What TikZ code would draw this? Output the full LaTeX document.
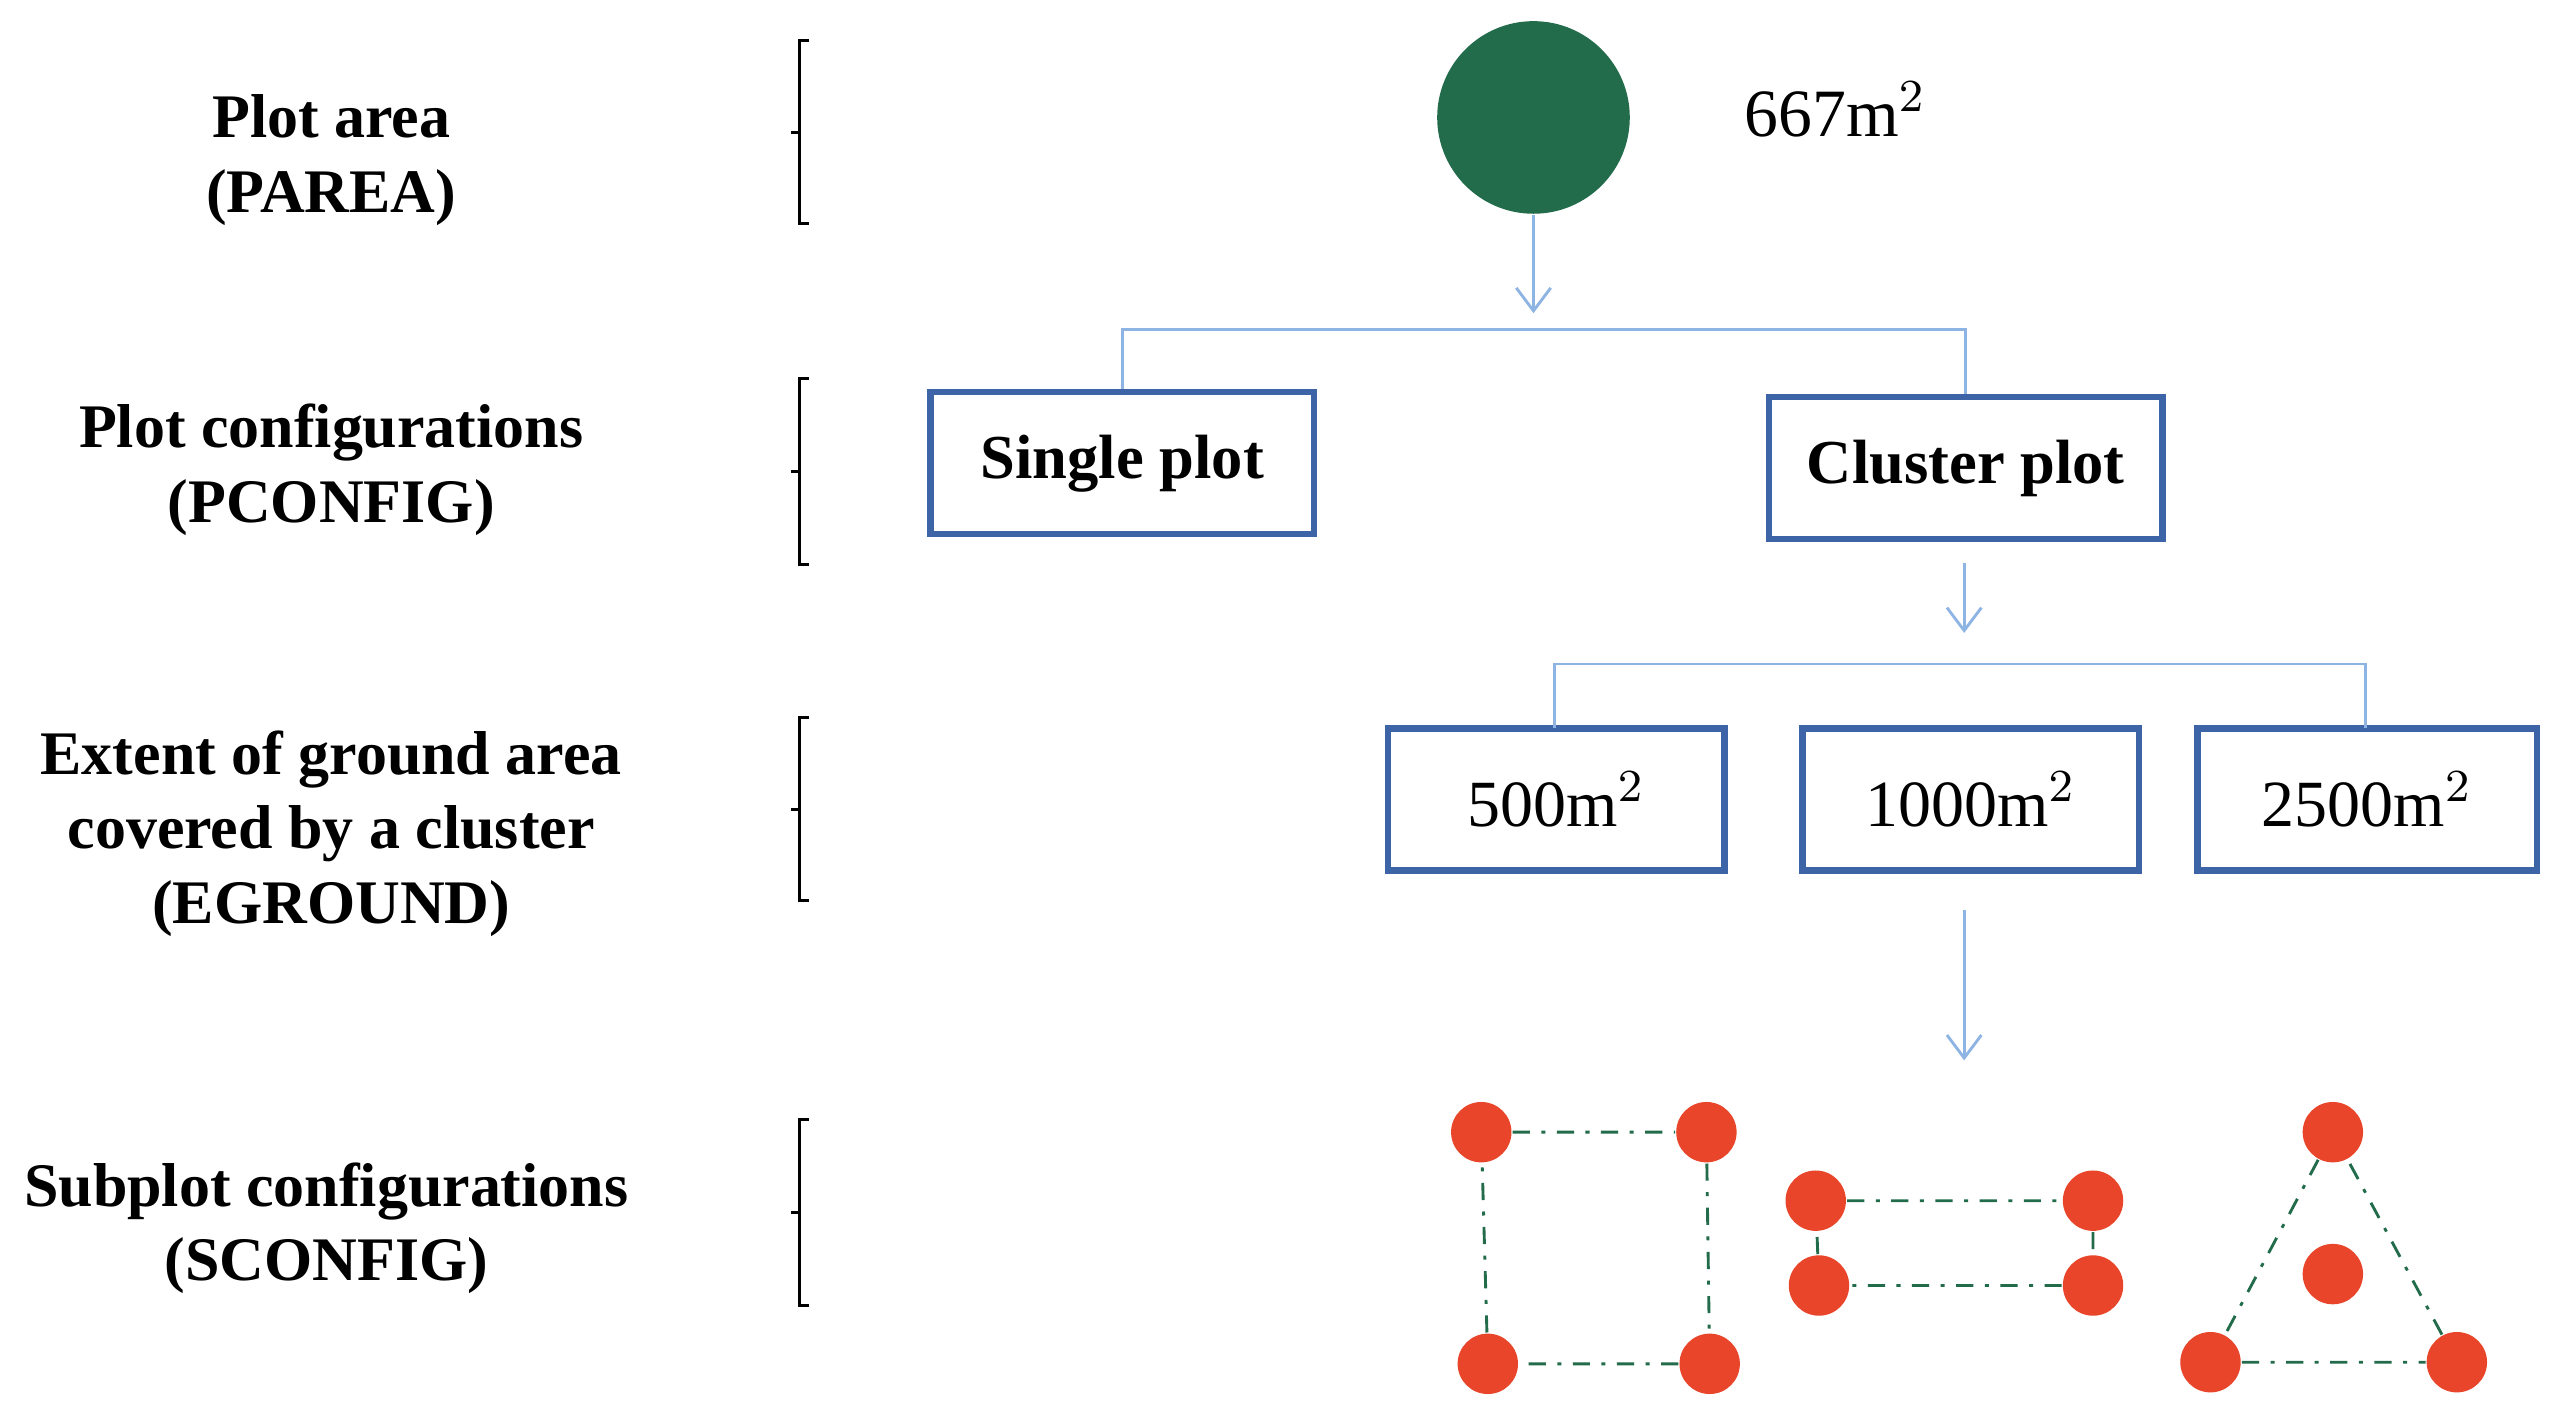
\documentclass[tikz,border=0pt]{standalone}
\usepackage{fontspec}
\setmainfont{Liberation Serif}
\usetikzlibrary{arrows.meta}
\definecolor{lblue}{HTML}{8EB4E3}
\definecolor{bblue}{HTML}{3E64A8}
\definecolor{dgreen}{HTML}{226B4B}
\definecolor{ored}{HTML}{E8452A}
\begin{document}
\begin{tikzpicture}[x=0.01cm,y=-0.01cm,
 lab/.style={font=\fontsize{10.8pt}{13pt}\selectfont\bfseries,align=center},
 box/.style={draw=bblue,line width=1.1pt,minimum width=#1,minimum height=0.87cm,inner sep=0pt,font=\fontsize{11.5pt}{12pt}\selectfont},
 con/.style={draw=lblue,line width=0.5pt},
 arr/.style={con,-{Straight Barb[length=4pt,width=6pt]}},
 dot/.style={circle,fill=ored,minimum size=0.37cm,inner sep=0pt},
 link/.style={draw=dgreen,line width=0.5pt,dash pattern=on 3pt off 2pt on 0.7pt off 2pt},
 brk/.style={line width=0.5pt}]
\useasboundingbox (0,0) rectangle (1568,870);
\fill[white] (0,0) rectangle (1568,870);
% left labels
\node[lab] (l1) at (203,98) {Plot area\\(PAREA)};
\node[lab] (l2) at (203,288) {Plot configurations\\(PCONFIG)};
\node[lab] (l3) at (203,511) {Extent of ground area\\covered by a cluster\\(EGROUND)};
\node[lab] (l4) at (200,753) {Subplot configurations\\(SCONFIG)};
% brackets
\foreach \a/\b in {25/137,232/346,440/552,686/800}{
 \draw[brk] (496,\a) -- (490,\a) -- (490,\b) -- (496,\b);
 \draw[brk] (490,{(\a+\b)/2}) -- (485,{(\a+\b)/2});
}
% circle
\node[circle,fill=dgreen,minimum size=1.18cm,inner sep=0pt] (c) at (940,72) {};
\node[font=\fontsize{11.8pt}{12pt}\selectfont] (t667) at (1125,67) {667m$^2$};
\coordinate (a1) at (940,192);
\draw[arr] (c) -- (a1);
\node[box=2.35cm,font=\fontsize{10.9pt}{12pt}\selectfont\bfseries] (sp) at (688,284) {Single plot};
\node[box=2.41cm,font=\fontsize{10.9pt}{12pt}\selectfont\bfseries] (cp) at (1205,287) {Cluster plot};
\draw[con] (sp.north) -- (688,202) -| (cp.north);
\coordinate (a2t) at (1204,345); \coordinate (a2) at (1204,388);
\draw[arr] (a2t) -- (a2);
\node[box=2.06cm] (b1) at (954,490) {500m$^2$};
\node[box=2.06cm] (b2) at (1208,490) {1000m$^2$};
\node[box=2.08cm] (b3) at (1451,490) {2500m$^2$};
\draw[con] (953,446) -- (953,407) -- (1450,407) -- (1450,446);
\coordinate (a3t) at (1204,558); \coordinate (a3) at (1204,650);
\draw[arr] (a3t) -- (a3);
% subplots
\node[dot] (s1) at (908,694) {}; \node[dot] (s2) at (1046,694) {};
\node[dot] (s3) at (912,836) {}; \node[dot] (s4) at (1048,836) {};
\draw[link] (s1) -- (s2) -- (s4) -- (s3) -- (s1);
\node[dot] (r1) at (1113,736) {}; \node[dot] (r2) at (1283,736) {};
\node[dot] (r3) at (1115,788) {}; \node[dot] (r4) at (1283,788) {};
\draw[link] (r1) -- (r2) -- (r4) -- (r3) -- (r1);
\node[dot] (t1) at (1430,694) {}; \node[dot] (t2) at (1355,835) {};
\node[dot] (t3) at (1506,835) {}; \node[dot] (t4) at (1430,781) {};
\draw[link] (t1) -- (t2) -- (t3) -- (t1);
\end{tikzpicture}
\end{document}
